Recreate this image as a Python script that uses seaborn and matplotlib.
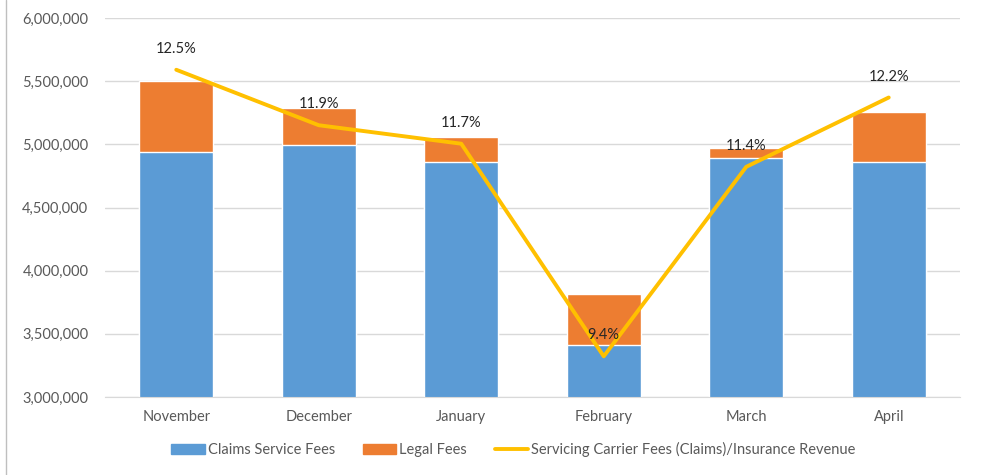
import numpy as np
import pandas as pd
import matplotlib
matplotlib.use("Agg")
import matplotlib.pyplot as plt
import matplotlib.patches as mpatches
from matplotlib.lines import Line2D
from matplotlib.ticker import FuncFormatter
import seaborn as sns

# data
months = ["November", "December", "January", "February", "March", "April"]
claims_fees = [4939000, 4994000, 4862000, 3408000, 4891000, 4862000]
legal_fees = [562000, 293000, 196000, 407000, 80000, 394000]
ratio = [0.125, 0.119, 0.117, 0.094, 0.1145, 0.122]
ratio_labels = ["12.5%", "11.9%", "11.7%", "9.4%", "11.4%", "12.2%"]

blue = "#5B9BD5"
orange = "#ED7D31"
gold = "#FFC000"
grid_c = "#D9D9D9"
text_c = "#595959"

sns.set_style("white")
plt.rcParams["font.family"] = ["Lato", "DejaVu Sans"]

df = pd.DataFrame({"month": months, "claims": claims_fees, "legal": legal_fees})
df["total"] = df["claims"] + df["legal"]

fig = plt.figure(figsize=(10.05, 4.75), dpi=100)
ax = fig.add_axes([0.1045, 0.1642, 0.8507, 0.7979])

# stacked bars: total first (orange), then the claims part over it (blue)
sns.barplot(data=df, x="month", y="total", color=orange, width=0.52,
            saturation=1, ax=ax, zorder=2)
sns.barplot(data=df, x="month", y="claims", color=blue, width=0.52,
            saturation=1, ax=ax, zorder=3)

ax.set_ylim(3000000, 6000000)
ax.set_yticks(np.arange(3000000, 6000001, 500000))
ax.yaxis.set_major_formatter(FuncFormatter(lambda v, p: f"{int(v):,}"))
ax.grid(axis="y", color=grid_c, linewidth=1, zorder=0)
ax.set_axisbelow(True)
for s in ["top", "right", "left"]:
    ax.spines[s].set_visible(False)
ax.spines["bottom"].set_color(grid_c)
ax.spines["bottom"].set_zorder(4)
ax.set_xlabel("")
ax.set_ylabel("")
ax.tick_params(axis="both", length=0, labelsize=10.5, colors=text_c)
ax.tick_params(axis="y", pad=12)
ax.tick_params(axis="x", pad=9)
ax.set_xlim(-0.5, len(months) - 0.5)

# ratio line on a hidden secondary axis
ax2 = ax.twinx()
xs = np.arange(len(months))
sns.lineplot(x=xs, y=ratio, ax=ax2, color=gold, linewidth=2.8, sort=False, zorder=5)
ax2.set_ylim(0.0896, 0.1306)
ax2.set_xlim(-0.5, len(months) - 0.5)
ax2.axis("off")
for x, y, lab in zip(xs, ratio, ratio_labels):
    ax2.annotate(lab, (x, y), xytext=(0, 10), textcoords="offset points",
                 ha="center", va="bottom", fontsize=10.5, color="#262626", zorder=6)

handles = [
    mpatches.Patch(color=blue, label="Claims Service Fees"),
    mpatches.Patch(color=orange, label="Legal Fees"),
    Line2D([0], [0], color=gold, linewidth=2.8,
           label="Servicing Carrier Fees (Claims)/Insurance Revenue"),
]
fig.legend(handles=handles, loc="center", bbox_to_anchor=(0.511, 0.053), ncol=3,
           frameon=False, fontsize=10.5, handlelength=2.3, handleheight=0.7,
           handletextpad=0.2, columnspacing=1.9, labelcolor=text_c)

# thin frame line on the left edge
fig.add_artist(Line2D([0.006, 0.006], [0, 1], transform=fig.transFigure,
                      color="#BFBFBF", linewidth=1))

fig.savefig("out.png", dpi=100)
